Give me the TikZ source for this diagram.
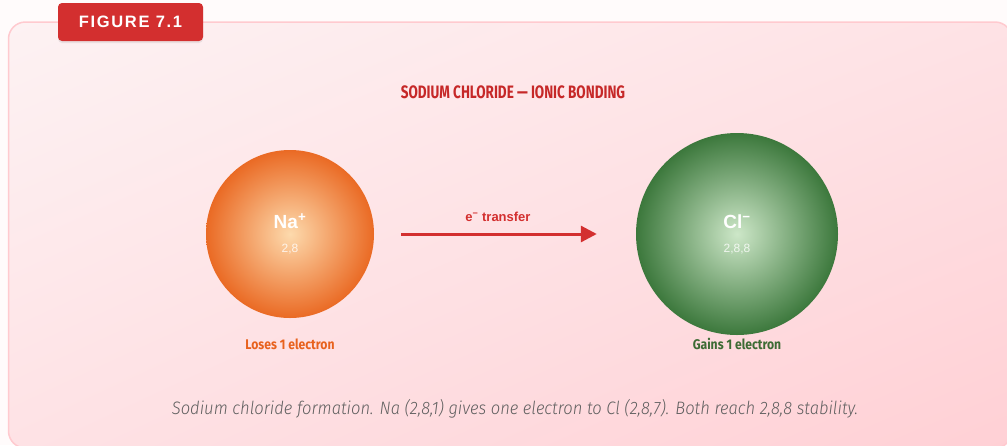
\documentclass[tikz,border=0pt]{standalone}
\usepackage{fontspec}
\setmainfont{Liberation Sans}
\newfontfamily\titlefont[FakeStretch=0.75]{Fira Sans}
\newfontfamily\labelfont[FakeStretch=0.87]{Fira Sans}
\newfontfamily\capfont[FakeStretch=0.92]{Fira Sans Light Italic}
\newfontfamily\badgefont[LetterSpace=10]{Liberation Sans}
\usetikzlibrary{arrows.meta,
                positioning,
                shadings, shadows}
\definecolor{figred}{HTML}{D32F2F}
\definecolor{titlered}{HTML}{C62828}
\definecolor{pagebg}{HTML}{FFFBFB}
\definecolor{panelline}{HTML}{FFCACF}
\definecolor{panelA}{HTML}{FDF2F3}
\definecolor{panelB}{HTML}{FEE2E5}
\definecolor{panelC}{HTML}{FFD0D5}
\definecolor{naLight}{HTML}{FDDAAD}
\definecolor{naDark}{HTML}{EA6A24}
\definecolor{clLight}{HTML}{CDE7C8}
\definecolor{clDark}{HTML}{3C783C}
\definecolor{loseorange}{HTML}{E8621E}
\definecolor{gaingreen}{HTML}{3D6B34}
\definecolor{capgray}{HTML}{5F5F5F}
\tikzset{badge/.style={fill=figred, text=white, rounded corners=4pt,
    minimum width=145pt, minimum height=38pt, inner sep=0pt,
    font=\badgefont\bfseries\fontsize{16.5}{16.5}\selectfont,
    drop shadow={opacity=0.15, shadow xshift=0pt, shadow yshift=-2pt}},
    ion/.style={circle, inner sep=0pt, minimum size=#1},
    ionname/.style={text=white, inner sep=0pt, anchor=base,
        font=\bfseries\fontsize{19}{19}\selectfont},
    ionshell/.style={text=white, text opacity=0.8, inner sep=0pt, anchor=base,
        font=\fontsize{12}{12}\selectfont},
    transfer/.style={draw=figred, line width=3pt,
        -{Triangle[length=16pt, width=16pt]},
        shorten <=27pt, shorten >=39pt},
    sidelabel/.style={inner sep=0pt,
        font=\labelfont\bfseries\fontsize{14}{14}\selectfont}}

\begin{document}
\begin{tikzpicture}[x=1pt, y=-1pt]
    \useasboundingbox (0,0) rectangle (1007,445);
    \clip (0,0) rectangle (1007,445);
    \fill[pagebg] (0,0) rectangle (1007,445);
    % panel
    \shadedraw[draw=panelline, line width=1.5pt, rounded corners=17pt,
        upper left=panelA, upper right=panelB, lower left=panelB,
        lower right=panelC] (8.5,22) rectangle (1012,448);
    \node[badge] (badge) at (130.5,22) {FIGURE 7.1};
    \node[anchor=base, text=titlered, inner sep=0pt,
        font=\titlefont\bfseries\fontsize{18}{18}\selectfont]
        (title) at (513,98.5) {SODIUM CHLORIDE — IONIC BONDING};

    % the two ions
    \node[ion=168pt, shade, inner color=naLight, outer color=naDark] (na) at (290,234) {};
    \node[ion=202pt, shade, inner color=clLight, outer color=clDark] (cl) at (737,234) {};
    \node[ionname] (naname) at (290,228) {Na\textsuperscript{+}};
    \node[ionshell] (nashell) at (290,252.5) {2,8};
    \node[ionname] (clname) at (737,228) {Cl\textsuperscript{−}};
    \node[ionshell] (clshell) at (737,252.5) {2,8,8};

    \draw[transfer] (na) -- (cl);
    \node[anchor=base, text=figred, inner sep=0pt,
        font=\bfseries\fontsize{13}{13}\selectfont]
        (elabel) at (498,221) {e\textsuperscript{−} transfer};

    \node[sidelabel, text=loseorange, below=20pt of na] (naloss) {Loses 1 electron};
    \node[sidelabel, text=gaingreen, below=3pt of cl] (clgain) {Gains 1 electron};

    \node[anchor=base, text=capgray, inner sep=0pt,
        font=\capfont\fontsize{18}{18}\selectfont] (caption) at (515,414)
        {Sodium chloride formation. Na (2,8,1) gives one electron to Cl (2,8,7). Both reach 2,8,8 stability.};
\end{tikzpicture}
\end{document}
